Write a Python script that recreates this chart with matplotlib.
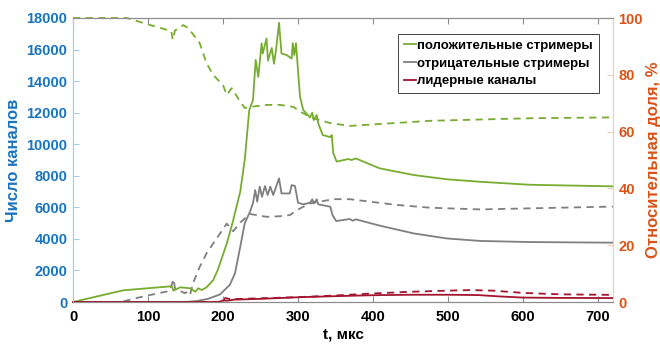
import matplotlib
matplotlib.use("Agg")
import matplotlib.pyplot as plt

plt.rcParams['font.family'] = ['Liberation Sans', 'DejaVu Sans']

# ---- data -------------------------------------------------------------
# positive streamers: channel count
t_pos = [0, 67, 131.6, 134, 143, 156, 163, 167, 171.6, 178, 187, 193, 205, 213,
         223, 229, 235, 240, 243.6, 247, 251.5, 253, 258, 260, 265, 268, 270.7,
         274.7, 278, 285, 291.5, 293, 295, 297.3, 302.7, 307, 316, 319, 321, 325,
         327, 333, 343, 345, 347, 351.5, 367, 371.5, 377, 409, 454, 498, 543,
         609, 720]
n_pos = [0, 740, 1000, 720, 930, 870, 650, 870, 760, 930, 1390, 2030, 3700, 5070,
         7000, 9000, 12170, 12800, 15340, 14260, 16400, 15750, 16700, 15300,
         16100, 15100, 15970, 17700, 15750, 15650, 15430, 16400, 15650, 16400,
         13000, 12170, 11700, 12000, 11530, 11850, 11320, 10580, 10450, 10580,
         9440, 8900, 9060, 9000, 9100, 8470, 8050, 7780, 7620, 7430, 7330]

# positive streamers: share, %
t_pos_pct = [0, 72, 98, 131, 133, 136, 147, 154, 169, 178, 187, 200, 205, 211.6,
             223, 229, 236, 258, 276, 294, 303, 320, 343, 369, 476, 609, 720]
p_pos_pct = [100, 100, 97.9, 95.4, 92.3, 95.6, 97.5, 96.4, 91.1, 84.1, 79.9, 76.4,
             72.9, 75.3, 70.5, 68.3, 68.7, 69.4, 69.4, 68.7, 67.0, 64.7, 63.0,
             62.0, 63.8, 64.7, 65.0]

# negative streamers: channel count
t_neg = [0, 150, 165, 180, 196, 209, 216, 223, 229, 236, 240, 243, 245.6, 249,
         252, 256, 259.6, 263, 267, 274.7, 278, 289, 291.5, 296, 300, 307, 316,
         319, 321, 325, 327, 343, 346, 351, 369, 373, 377, 409, 454, 498, 543,
         609, 720]
n_neg = [0, 0, 60, 200, 480, 1080, 1820, 3500, 5000, 5720, 6270, 7100, 6360, 7310,
         6670, 7350, 6780, 7310, 6780, 7840, 6880, 6880, 7410, 7350, 6290, 6190,
         6290, 6510, 6250, 6510, 6190, 6040, 5510, 5130, 5260, 5150, 5240, 4840,
         4350, 4030, 3870, 3800, 3760]

# negative streamers: share, %
t_neg_pct = [0, 65, 78, 98, 129, 134, 136, 149, 153, 156, 160, 169, 178, 191.6,
             205, 213.6, 223, 236, 258, 276, 289, 303, 316, 347, 369, 431, 476,
             543, 720]
p_neg_pct = [0, 0, 1.0, 2.2, 3.9, 8.1, 4.8, 3.1, 3.6, 2.5, 6.6, 12.4, 17.1, 22.4,
             27.6, 24.9, 28.0, 31.0, 30.0, 30.2, 30.6, 33.0, 34.7, 36.2, 36.2, 34.2,
             33.2, 32.6, 33.6]

# leader channels: channel count
t_lead = [0, 195, 200, 205, 215, 250, 300, 350, 400, 450, 500, 540, 570, 600, 650, 720]
n_lead = [0, 0, 110, 80, 150, 200, 300, 370, 430, 460, 460, 440, 350, 280, 260, 250]

# leader channels: share, %
t_lead_pct = [0, 198, 203, 210, 250, 300, 350, 400, 450, 500, 530, 560, 600, 650, 720]
p_lead_pct = [0, 0, 1.4, 1.0, 1.3, 1.7, 2.3, 3.0, 3.6, 4.0, 4.2, 4.0, 3.2, 2.7, 2.5]

labels = ['положительные стримеры', 'отрицательные стримеры', 'лидерные каналы']
x_ticks = [0, 100, 200, 300, 400, 500, 600, 700]
left_ticks = [0, 2000, 4000, 6000, 8000, 10000, 12000, 14000, 16000, 18000]
right_ticks = [0, 20, 40, 60, 80, 100]

# ---- styling ----------------------------------------------------------
c_green = '#77ac30'
c_gray = '#7f7f7f'
c_red = '#a2142f'
c_left = '#1a73bd'
c_right = '#d95319'
c_left_spine = '#a9cbe6'
c_right_spine = '#ead2bf'
lw = 1.3

fig = plt.figure(figsize=(6.6, 3.44), dpi=100)
ax = fig.add_axes([73 / 660, 42 / 344, 540 / 660, 284 / 344])
ax2 = ax.twinx()

h1, = ax.plot(t_pos, n_pos, color=c_green, lw=lw)
h2, = ax.plot(t_neg, n_neg, color=c_gray, lw=lw)
h3, = ax.plot(t_lead, n_lead, color=c_red, lw=lw, clip_on=False)

ax2.plot(t_pos_pct, p_pos_pct, color=c_green, lw=lw, ls=(0, (4, 3)), clip_on=False)
ax2.plot(t_neg_pct, p_neg_pct, color=c_gray, lw=lw, ls=(0, (4, 3)))
ax2.plot(t_lead_pct, p_lead_pct, color=c_red, lw=lw, ls=(0, (4, 3)))

ax.set_xlim(0, 720)
ax.set_ylim(0, 18000)
ax2.set_ylim(0, 100)
ax.set_xticks(x_ticks)
ax.set_yticks(left_ticks)
ax2.set_yticks(right_ticks)

for a in (ax, ax2):
    for s in a.spines.values():
        s.set_linewidth(0.8)
    a.spines['top'].set_color('#8c8c8c')
    a.spines['bottom'].set_color('#8c8c8c')
    a.spines['left'].set_color(c_left_spine)
    a.spines['right'].set_color(c_right_spine)

ax.tick_params(axis='x', direction='in', top=True, length=4, width=0.8,
               color='#8c8c8c', labelsize=10.5, pad=6)
ax.tick_params(axis='y', direction='in', length=4, width=0.8, color=c_left_spine,
               labelcolor=c_left, labelsize=10.5, pad=4)
ax2.tick_params(axis='y', direction='in', length=4, width=0.8, color=c_right_spine,
                labelcolor=c_right, labelsize=10.5, pad=4)
for lbl in ax.get_xticklabels() + ax.get_yticklabels() + ax2.get_yticklabels():
    lbl.set_fontweight('bold')

ax.set_xlabel('t, мкс', fontsize=11, fontweight='bold', labelpad=2)
ax.set_ylabel('Число каналов', fontsize=12, fontweight='bold', color=c_left, labelpad=4)
ax2.set_ylabel('Относительная доля, %', fontsize=12, fontweight='bold',
               color=c_right, labelpad=2)

leg = ax.legend([h1, h2, h3], labels, loc='upper left',
                bbox_to_anchor=(0.602, 0.945), fancybox=False, framealpha=1,
                edgecolor='#444444', handlelength=0.9, handletextpad=0.1,
                borderpad=0.45, labelspacing=0.42, borderaxespad=0,
                prop={'weight': 'bold', 'size': 9.5})
leg.get_frame().set_linewidth(0.7)
ax.set_zorder(ax2.get_zorder() + 1)
ax.patch.set_visible(False)

fig.savefig('out.png', dpi=100)
